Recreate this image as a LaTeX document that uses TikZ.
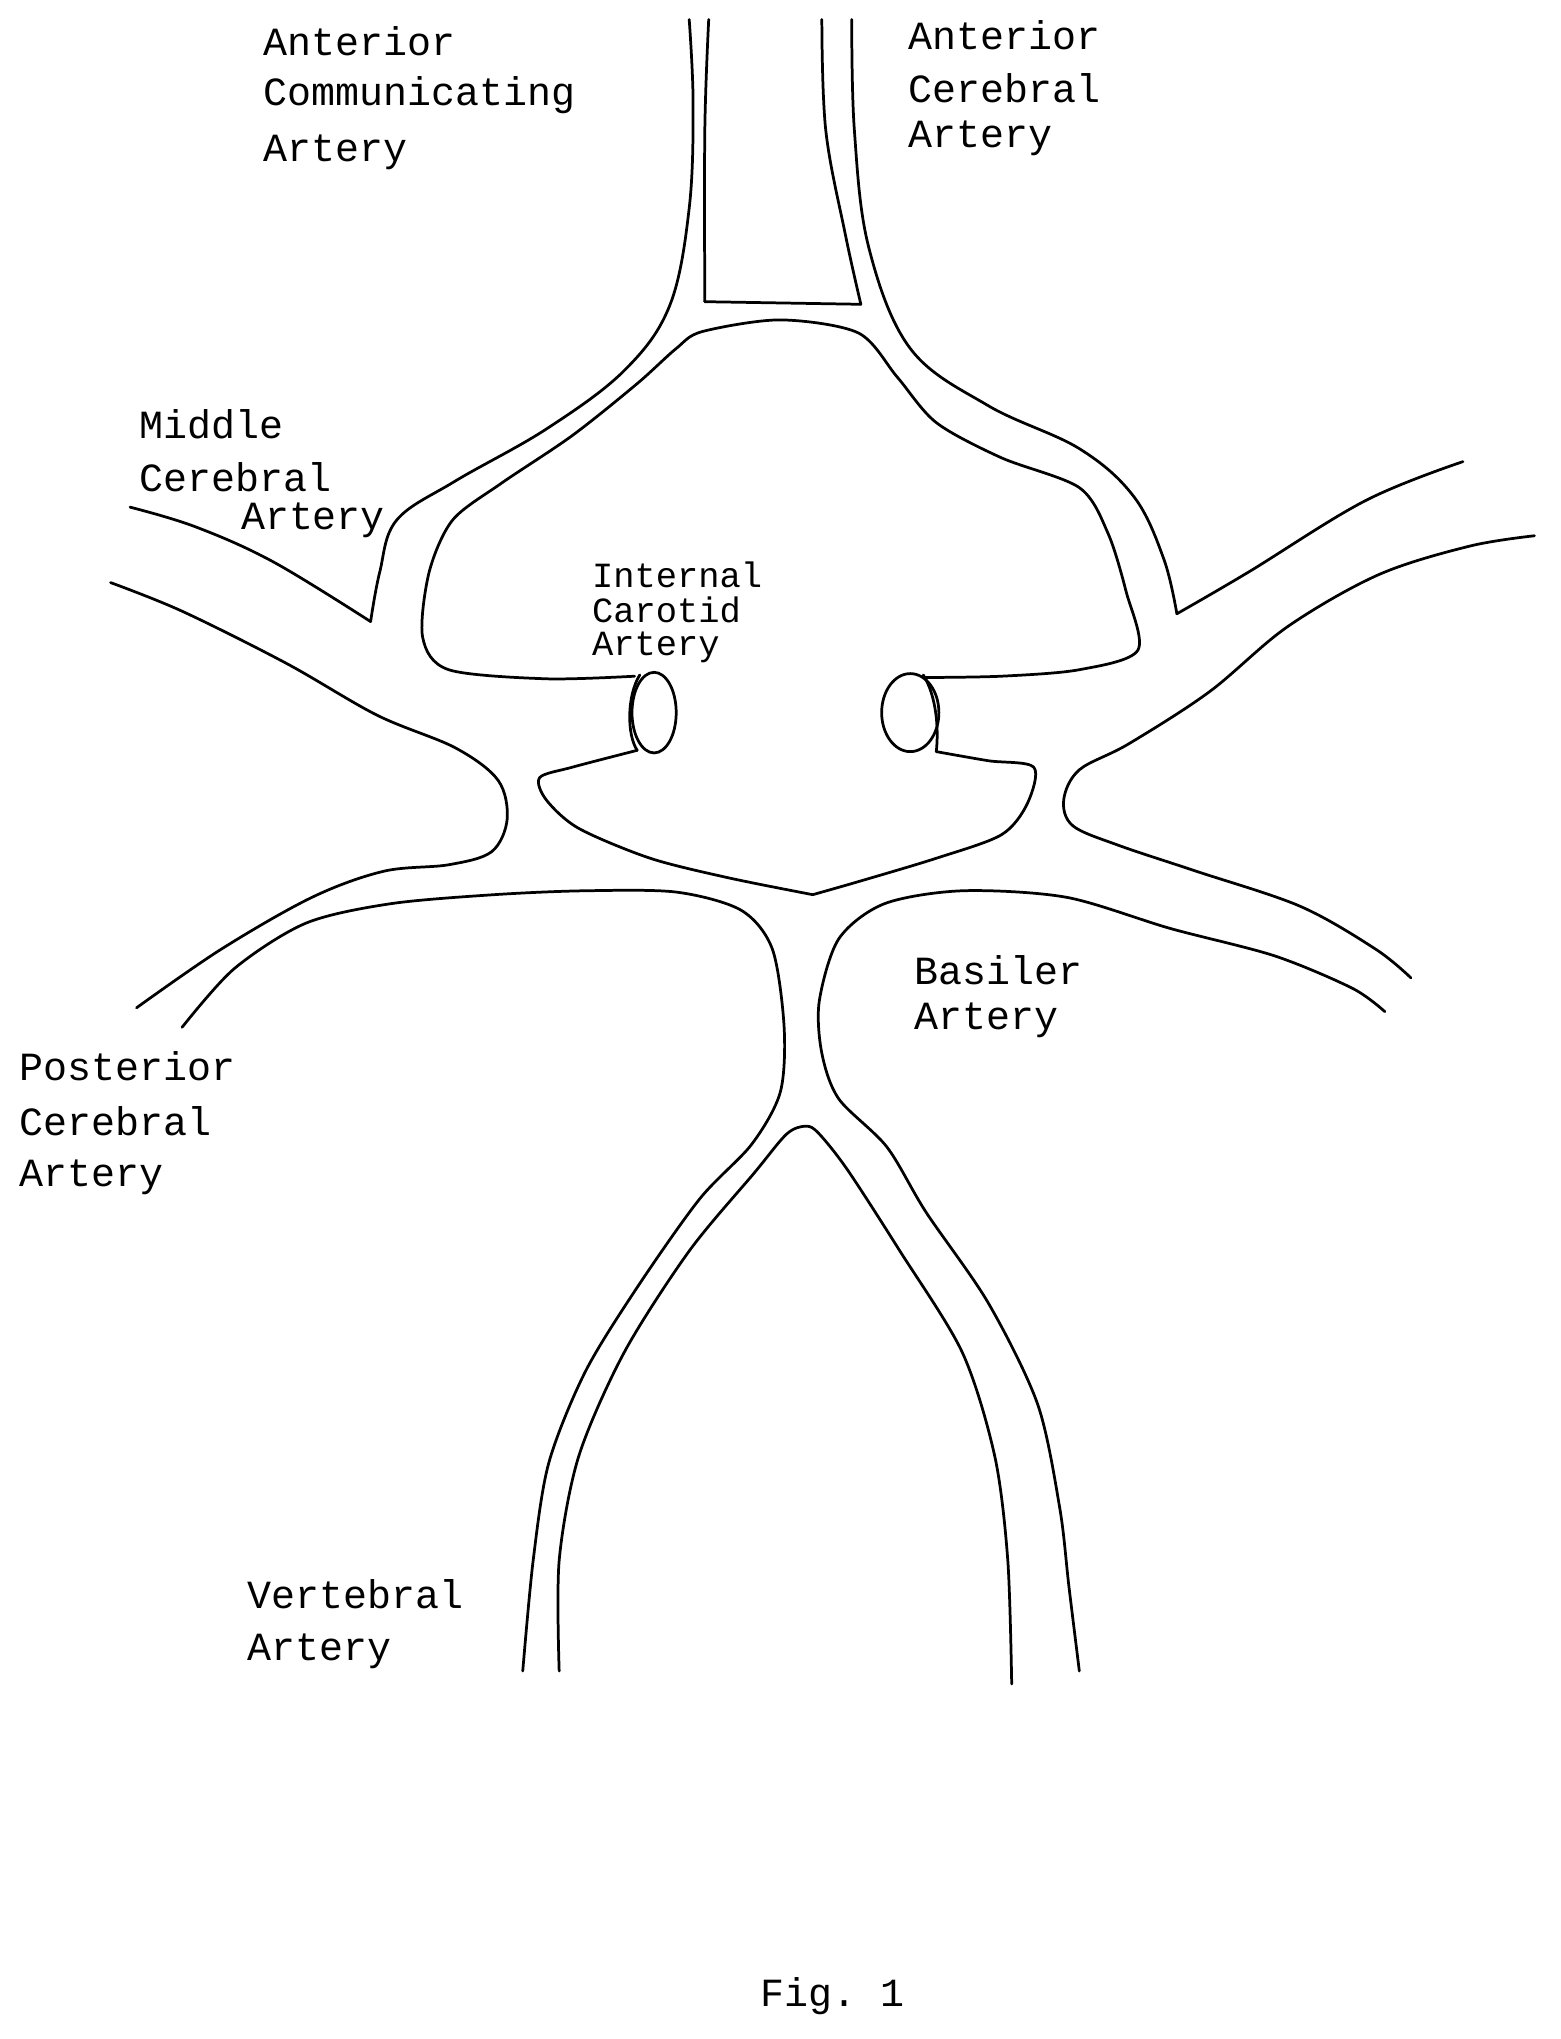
\documentclass[tikz,border=0pt]{standalone}
\usepackage{fontspec}
\setmonofont{Liberation Mono}
\begin{document}
\begin{tikzpicture}[x=0.02cm,y=-0.02cm,
 v/.style={line width=1.2pt,line join=round,line cap=round},
 lab/.style={anchor=west,font=\ttfamily\fontsize{17.5}{17.5}\selectfont,inner sep=0pt},
 labs/.style={anchor=west,font=\ttfamily\fontsize{15.5}{15.5}\selectfont,inner sep=0pt}]
\useasboundingbox (0,0) rectangle (1200,1568);
\draw[v] plot[smooth,tension=0.6] coordinates {(530,15)(533,80)(530,160)(515,235)(480,285)(420,330)(350,370)(305,400)(292,440)(285,478)};
\draw[v] plot[smooth,tension=0.6] coordinates {(100,390)(150,405)(210,432)(285,478)};
\draw[v] plot[smooth,tension=0.6] coordinates {(545,15)(542,100)(542,232)};
\draw[v] (542,232) -- (662,234);
\draw[v] plot[smooth,tension=0.6] coordinates {(632,15)(635,100)(650,180)(662,234)};
\draw[v] plot[smooth,tension=0.6] coordinates {(655,15)(657,100)(668,190)(700,268)(760,312)(830,345)(872,382)(895,430)(905,472)};
\draw[v] plot[smooth,tension=0.6] coordinates {(905,472)(960,440)(1050,385)(1125,355)};
\draw[v] plot[smooth,tension=0.5] coordinates {(488,520)(420,522)(345,515)(325,490)(330,440)(348,400)(385,372)(440,335)(490,295)(520,268)(540,255)(600,246)(660,256)(690,290)(720,325)(770,352)(830,375)(852,410)(866,455)(875,500)(830,515)(770,520)(712,521)};
\draw[v] plot[smooth,tension=0.5] coordinates {(490,577)(440,590)(415,598)(420,615)(445,637)(500,660)(560,675)(625,688)};
\draw[v] plot[smooth,tension=0.5] coordinates {(625,688)(660,678)(720,660)(770,642)(790,618)(795,590)(760,585)(720,578)};
\draw[v] (503,548) ellipse [x radius=17, y radius=31];
\draw[v] (492,519) .. controls (482,535) and (482,565) .. (490,577);
\draw[v] (700,548) ellipse [x radius=22, y radius=30];
\draw[v] (710,519) .. controls (720,535) and (722,560) .. (720,578);
\draw[v] plot[smooth,tension=0.55] coordinates {(85,448)(140,470)(220,510)(290,550)(350,575)(383,600)(390,630)(378,655)(345,665)(295,670)(240,690)(170,730)(105,775)};
\draw[v] plot[smooth,tension=0.55] coordinates {(1180,412)(1130,420)(1060,442)(990,482)(930,532)(868,572)(830,592)(818,615)(825,635)(860,650)(920,670)(1000,697)(1058,730)(1085,752)};
\draw[v] plot[smooth,tension=0.5] coordinates {(140,790)(180,745)(235,710)(300,695)(380,688)(450,685)(520,686)(570,700)(594,730)(603,790)(600,840)(578,880)(538,922)(490,990)(450,1055)(422,1125)(410,1200)(402,1285)};
\draw[v] plot[smooth,tension=0.5] coordinates {(1065,778)(1040,760)(980,735)(900,714)(820,690)(740,685)(680,695)(645,722)(630,770)(632,810)(645,845)(682,882)(712,932)(760,1002)(798,1080)(815,1160)(822,1220)(830,1285)};
\draw[v] plot[smooth,tension=0.5] coordinates {(430,1285)(430,1200)(445,1120)(480,1040)(530,962)(580,902)(605,872)(620,866)(630,872)(652,900)(692,962)(740,1040)(765,1120)(775,1200)(778,1295)};
\node[lab] (t1) at (202,32) {Anterior};
\node[lab] (t2) at (202,73) {Communicating};
\node[lab] (t3) at (202,117) {Artery};
\node[lab] (t4) at (698,27) {Anterior};
\node[lab] (t5) at (698,68) {Cerebral};
\node[lab] (t6) at (698,106) {Artery};
\node[lab] (t7) at (107,326) {Middle};
\node[lab] (t8) at (107,367) {Cerebral};
\node[lab] (t9) at (185,400) {Artery};
\node[labs] (t10) at (455,442) {Internal};
\node[labs] (t11) at (455,469) {Carotid};
\node[labs] (t12) at (455,498) {Artery};
\node[lab] (t13) at (703,746) {Basiler};
\node[lab] (t14) at (703,785) {Artery};
\node[lab] (t15) at (15,820) {Posterior};
\node[lab] (t16) at (15,862) {Cerebral};
\node[lab] (t17) at (15,905) {Artery};
\node[lab] (t18) at (190,1226) {Vertebral};
\node[lab] (t19) at (190,1270) {Artery};
\node[lab,anchor=center] (fig) at (640,1535) {Fig. 1};
\end{tikzpicture}
\end{document}
